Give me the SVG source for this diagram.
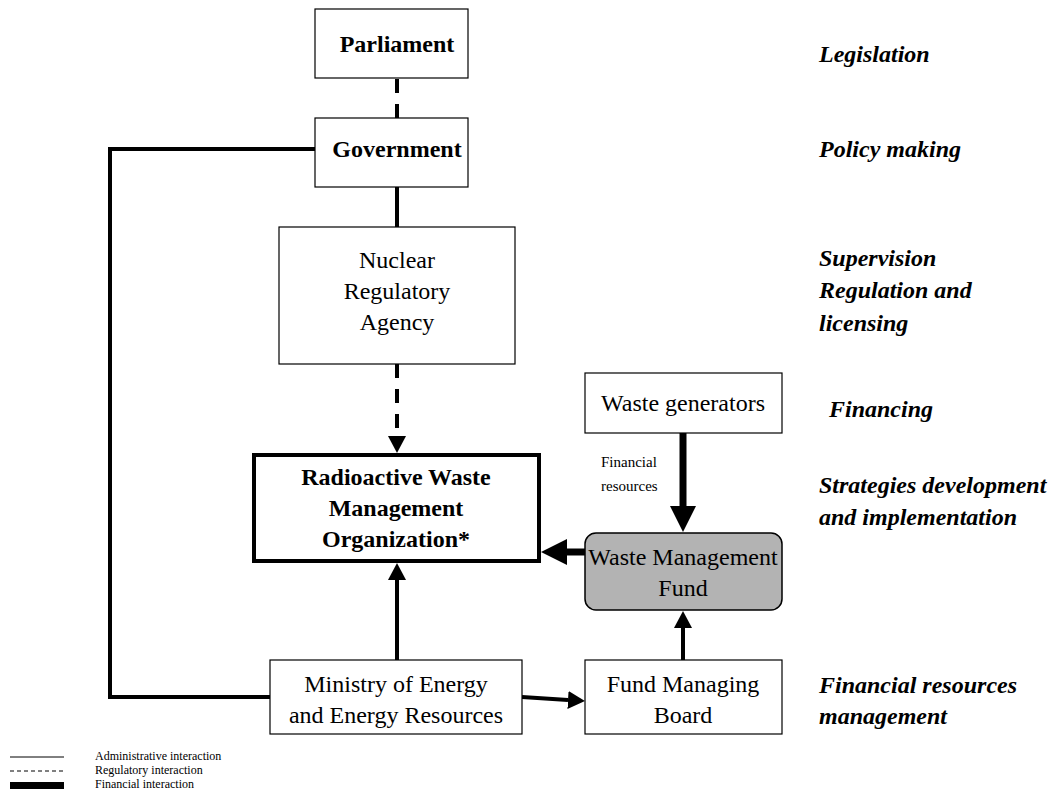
<svg xmlns="http://www.w3.org/2000/svg" width="1050" height="800" viewBox="0 0 1050 800">
  <style>
    text { font-family: "Liberation Serif", "Times New Roman", serif; fill: #000; }
    .node rect { fill: #fff; stroke: #000; stroke-width: 1.2; }
    .node text { font-size: 24px; text-anchor: middle; }
    .bold text { font-weight: bold; }
    #rwmo rect { stroke-width: 4; }
    #fund rect { fill: #b3b3b3; stroke-width: 1.5; }
    .adm { fill: none; stroke: #000; stroke-width: 4; }
    .reg { fill: none; stroke: #000; stroke-width: 4; stroke-dasharray: 14 11; }
    .fin { fill: none; stroke: #000; stroke-width: 7; }
    .level { font-size: 24px; font-weight: bold; font-style: italic; }
    .note { font-size: 15px; }
    .legend text { font-size: 12px; }
  </style>
  <defs>
    <marker id="head-s" markerUnits="userSpaceOnUse" markerWidth="18" markerHeight="18" refX="0" refY="9" orient="auto">
      <path d="M0,0 L17,9 L0,18 z" fill="#000"/>
    </marker>
    <marker id="head-l" markerUnits="userSpaceOnUse" markerWidth="27" markerHeight="26" refX="0" refY="13" orient="auto">
      <path d="M0,0 L26,13 L0,26 z" fill="#000"/>
    </marker>
  </defs>

  <!-- connectors -->
  <g id="connectors">
    <path class="reg" d="M397,79 V118"/>
    <path class="adm" d="M397,187 V227"/>
    <path class="reg" d="M397,364 V436" marker-end="url(#head-s)"/>
    <path class="adm" d="M315,149 H110 V697 H270"/>
    <path class="adm" d="M397,660 V580" marker-end="url(#head-s)"/>
    <path class="adm" d="M522,697 L568,700" marker-end="url(#head-s)"/>
    <path class="adm" d="M683,660 V628" marker-end="url(#head-s)"/>
    <path class="fin" d="M683,433 V506" marker-end="url(#head-l)"/>
    <path class="fin" d="M585,552 H567" marker-end="url(#head-l)"/>
    <text class="note" x="601" y="467">Financial</text>
    <text class="note" x="601" y="491">resources</text>
  </g>

  <!-- nodes -->
  <g id="parliament" class="node bold">
    <rect x="315" y="9" width="153" height="69"/>
    <text x="397" y="52">Parliament</text>
  </g>
  <g id="government" class="node bold">
    <rect x="315" y="118" width="153" height="69"/>
    <text x="397" y="157">Government</text>
  </g>
  <g id="nra" class="node">
    <rect x="279" y="227" width="236" height="137"/>
    <text x="397" y="268">Nuclear</text>
    <text x="397" y="299">Regulatory</text>
    <text x="397" y="330">Agency</text>
  </g>
  <g id="rwmo" class="node bold">
    <rect x="254" y="455" width="285" height="106"/>
    <text x="396" y="485">Radioactive Waste</text>
    <text x="396" y="516">Management</text>
    <text x="396" y="547">Organization*</text>
  </g>
  <g id="generators" class="node">
    <rect x="585" y="373" width="197" height="60"/>
    <text x="683" y="411">Waste generators</text>
  </g>
  <g id="fund" class="node">
    <rect x="585" y="533" width="197" height="77" rx="11" ry="11"/>
    <text x="683" y="565">Waste Management</text>
    <text x="683" y="596">Fund</text>
  </g>
  <g id="ministry" class="node">
    <rect x="270" y="660" width="252" height="74"/>
    <text x="396" y="692">Ministry of Energy</text>
    <text x="396" y="723">and Energy Resources</text>
  </g>
  <g id="board" class="node">
    <rect x="585" y="660" width="197" height="74"/>
    <text x="683" y="692">Fund Managing</text>
    <text x="683" y="723">Board</text>
  </g>

  <!-- functional levels -->
  <g id="levels">
    <text class="level" x="819" y="62">Legislation</text>
    <text class="level" x="819" y="157">Policy making</text>
    <text class="level" x="819" y="266">Supervision</text>
    <text class="level" x="819" y="298">Regulation and</text>
    <text class="level" x="819" y="331">licensing</text>
    <text class="level" x="829" y="417">Financing</text>
    <text class="level" x="819" y="493">Strategies development</text>
    <text class="level" x="819" y="525">and implementation</text>
    <text class="level" x="819" y="693">Financial resources</text>
    <text class="level" x="819" y="724">management</text>
  </g>

  <!-- legend -->
  <g id="legend" class="legend">
    <line x1="10" y1="757" x2="64" y2="757" stroke="#000" stroke-width="1"/>
    <line x1="10" y1="771" x2="64" y2="771" stroke="#000" stroke-width="1" stroke-dasharray="4 3"/>
    <rect x="10" y="782" width="54" height="7" fill="#000"/>
    <text x="95" y="760">Administrative interaction</text>
    <text x="95" y="774">Regulatory interaction</text>
    <text x="95" y="788">Financial interaction</text>
  </g>
</svg>
